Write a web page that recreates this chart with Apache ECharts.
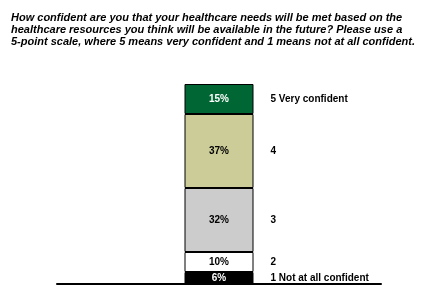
<!DOCTYPE html>
<html><head><meta charset="utf-8">
<script src="https://cdn.jsdelivr.net/npm/echarts@6/dist/echarts.min.js"></script>
<style>html,body{margin:0;padding:0;background:#fff}#c{width:440px;height:295px}</style>
</head><body><div id="c"></div>
<script>
const titleText = "How confident are you that your healthcare needs will be met based on the\nhealthcare resources you think will be available in the future? Please use a\n5-point scale, where 5 means very confident and 1 means not at all confident.";
const categories = [""];
const segmentNames = ["1 Not at all confident", "2", "3", "4", "5 Very confident"];
const segmentValues = [6, 10, 32, 37, 15];
const segmentColors = ["#000000", "#ffffff", "#cccccc", "#cccc99", "#006633"];
const labelColors = ["#ffffff", "#000000", "#000000", "#000000", "#ffffff"];
const font = "Liberation Sans, Arial, sans-serif";

const series = [];
segmentValues.forEach((v, i) => {
  series.push({
    type: "bar", stack: "a", name: segmentNames[i], data: [v], barWidth: 69,
    itemStyle: {color: segmentColors[i], borderColor: "#000", borderWidth: 1},
    label: {show: true, position: "inside", formatter: "{c}%", color: labelColors[i],
      fontFamily: font, fontWeight: "bold", fontSize: 10},
    silent: true
  });
});
segmentValues.forEach((v, i) => {
  series.push({
    type: "bar", stack: "b", name: segmentNames[i] + " ", data: [v], barWidth: 69, barGap: "-100%",
    itemStyle: {color: "rgba(0,0,0,0)", borderWidth: 0},
    label: {show: true, position: "right", distance: 17, formatter: segmentNames[i], color: "#000",
      fontFamily: font, fontWeight: "bold", fontSize: 10},
    silent: true
  });
});

const chart = echarts.init(document.getElementById("c"), null, {renderer: "canvas"});
chart.setOption({
  animation: false,
  title: {text: titleText, left: 11, top: 12, padding: 0,
    textStyle: {fontFamily: font, fontSize: 11, fontWeight: "bold", fontStyle: "italic", lineHeight: 12, color: "#000"}},
  grid: {left: 57, right: 59, top: 84, bottom: 11, containLabel: false},
  xAxis: {type: "category", data: categories, axisLine: {show: true, lineStyle: {color: "#000", width: 2}},
    axisTick: {show: false}, axisLabel: {show: false}},
  yAxis: {type: "value", min: 0, max: 100, show: false, splitLine: {show: false}},
  series: series
});
</script></body></html>
